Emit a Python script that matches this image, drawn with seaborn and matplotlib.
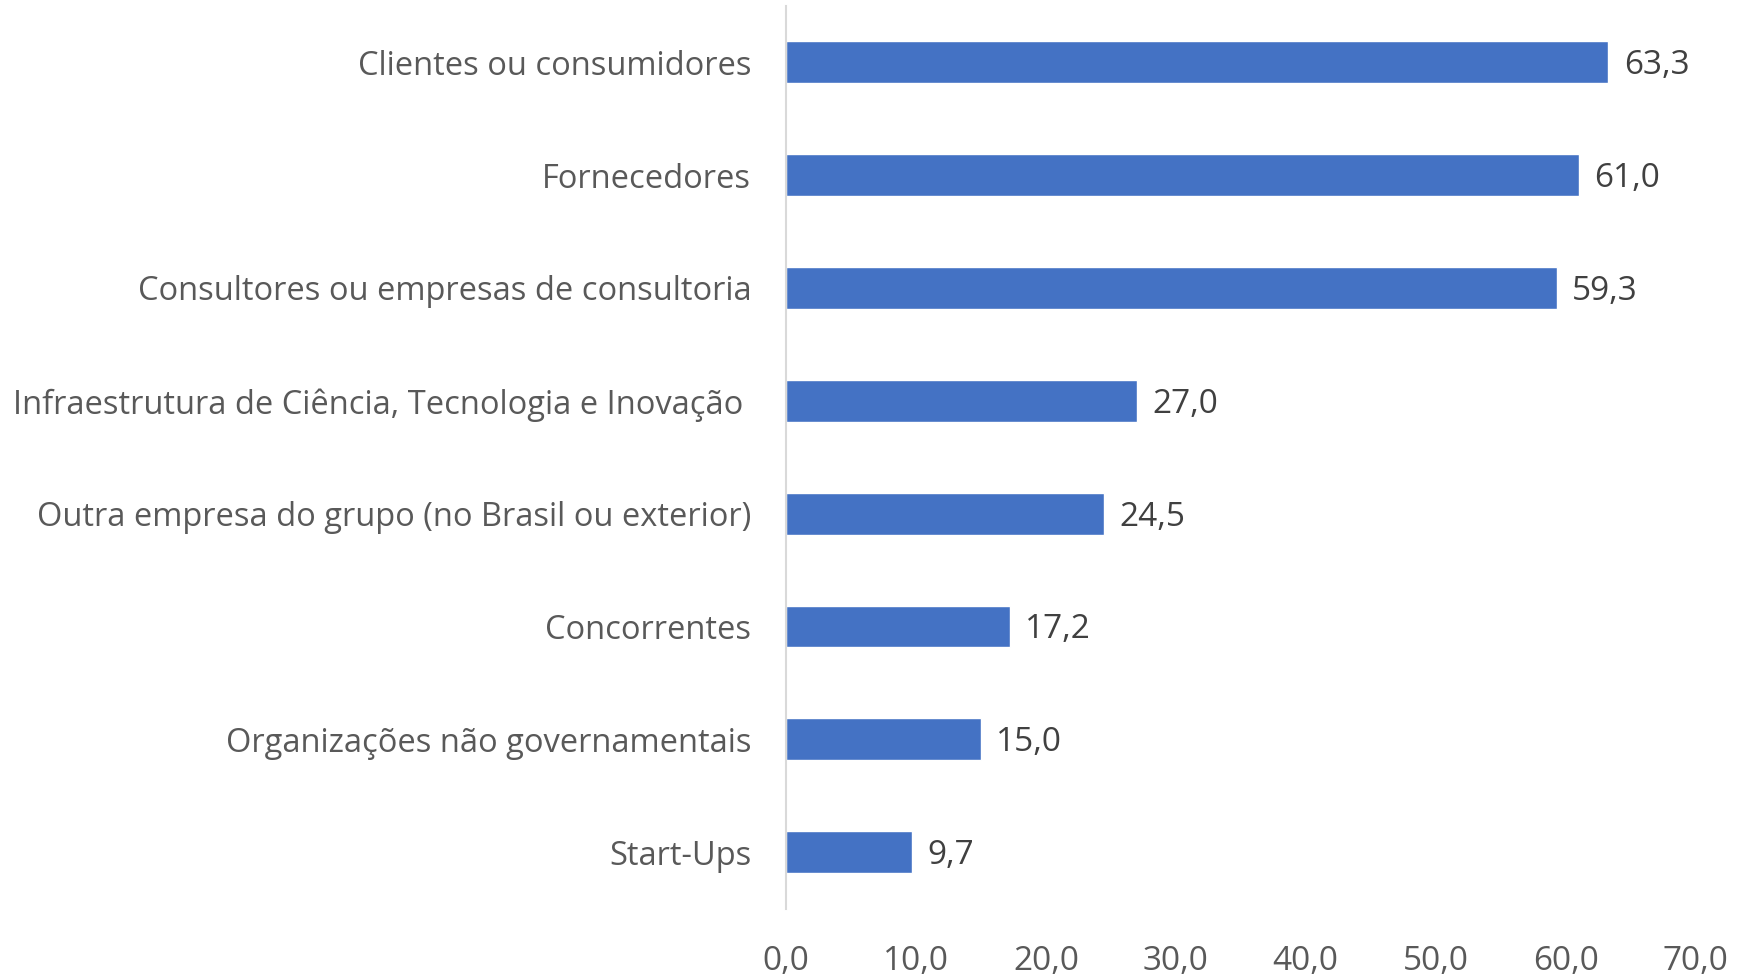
import matplotlib
matplotlib.use("Agg")
import matplotlib.pyplot as plt
import seaborn as sns
import pandas as pd

categorias = [
    "Clientes ou consumidores",
    "Fornecedores",
    "Consultores ou empresas de consultoria",
    "Infraestrutura de Ciência, Tecnologia e Inovação ",
    "Outra empresa do grupo (no Brasil ou exterior)",
    "Concorrentes",
    "Organizações não governamentais",
    "Start-Ups",
]
valores = [63.3, 61.0, 59.3, 27.0, 24.5, 17.2, 15.0, 9.7]
ticks_x = [0, 10, 20, 30, 40, 50, 60, 70]

df = pd.DataFrame({"categoria": categorias, "valor": valores})

sns.set_style("white")
plt.rcParams["font.family"] = ["Open Sans", "DejaVu Sans"]

fig = plt.figure(figsize=(17.39, 9.77), dpi=100)
ax = fig.add_axes([0.452, 0.070, 0.523, 0.924])

sns.barplot(data=df, x="valor", y="categoria", color="#4472C4",
            width=0.37, saturation=1, ax=ax)

for i, v in enumerate(valores):
    ax.annotate(f"{v:.1f}".replace(".", ","), xy=(v, i), xytext=(11, -2.5),
                textcoords="offset points", va="center", ha="left",
                fontsize=24, color="#404040")

ax.set_xlim(0, 70)
ax.set_xticks(ticks_x)
ax.set_xticklabels([f"{t:.1f}".replace(".", ",") for t in ticks_x])
ax.set_xlabel("")
ax.set_ylabel("")
ax.tick_params(axis="x", length=0, pad=26, labelsize=24, labelcolor="#595959")
ax.tick_params(axis="y", length=0, pad=25, labelsize=23.5, labelcolor="#595959")

for s in ["top", "right", "bottom"]:
    ax.spines[s].set_visible(False)
ax.spines["left"].set_color("#D9D9D9")
ax.spines["left"].set_linewidth(1.5)

fig.savefig("out.png", dpi=100)
